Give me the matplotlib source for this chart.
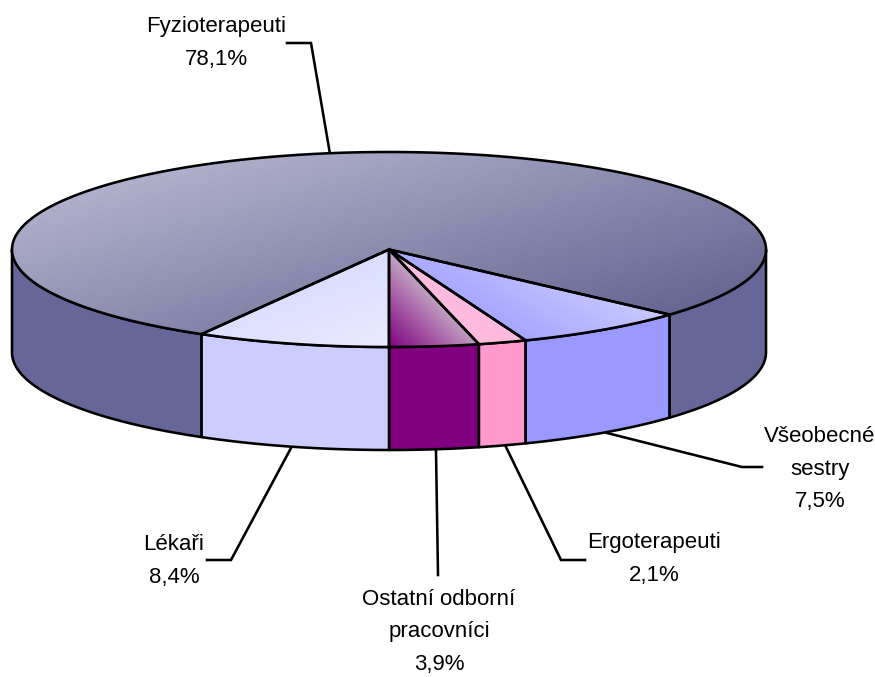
import numpy as np
import matplotlib
matplotlib.use("Agg")
import matplotlib.pyplot as plt
from matplotlib.patches import Polygon
from matplotlib.colors import to_rgb

# Data, going from the front of the pie towards the right
categories = ["Ostatní odborní\npracovníci", "Ergoterapeuti", "Všeobecné\nsestry", "Fyzioterapeuti", "Lékaři"]
values = [3.9, 2.1, 7.5, 78.1, 8.4]
side_colors = ["#800080", "#FF99CC", "#9999FF", "#666699", "#CCCCFF"]
top_light = ["#C4A6C4", "#FFBBDD", "#CACAFF", "#B0B0CC", "#DCDCFF"]
top_dark = ["#800080", "#FFBBDD", "#A6A6FF", "#666692", "#EAEAFF"]
grad_dirs = [(-0.7, 0.7), (0, 1), (-0.5, 0.85), (0.27, 0.96), (0.35, 0.94)]

CX, CY, RX, RY, DEPTH = 389, 249.5, 377, 97.5, 103
LW = 1.85

plt.rcParams["font.family"] = ["Liberation Sans Narrow", "Liberation Sans", "DejaVu Sans"]
fig = plt.figure(figsize=(8.75, 6.77), dpi=100)
ax = fig.add_axes([0, 0, 1, 1])
ax.set_xlim(0, 875)
ax.set_ylim(677, 0)
ax.axis("off")


def rim(a0, a1, dy=0.0, n=240):
    a = np.radians(np.linspace(a0, a1, n))
    a = a - np.radians(0.5) * np.sin(2 * a)  # slight perspective of the tilted disc
    return np.column_stack([CX + RX * np.sin(a), CY + RY * np.cos(a) + dy])


def gradient_fill(poly, c0, c1, direction, z):
    x0, y0 = poly.min(axis=0)
    x1, y1 = poly.max(axis=0)
    xx, yy = np.meshgrid(np.arange(x0, x1 + 1), np.arange(y0, y1 + 1))
    d = xx * direction[0] + yy * direction[1]
    proj = poly @ np.array(direction)
    t = np.clip((d - proj.min()) / (proj.max() - proj.min()), 0, 1)[..., None]
    img = np.array(to_rgb(c0)) * (1 - t) + np.array(to_rgb(c1)) * t
    im = ax.imshow(img, extent=(x0, x1 + 1, y1 + 1, y0), zorder=z, aspect="auto", interpolation="bilinear")
    clip = Polygon(poly, closed=True, transform=ax.transData)
    im.set_clip_path(clip)


# Leader lines
leaders = [
    [(287, 43), (311, 43), (330, 154)],
    [(607, 433), (742, 467), (762, 467)],
    [(506, 447), (561, 560), (585, 560)],
    [(436, 451), (438, 575)],
    [(291, 448), (231, 560), (207, 560)],
]
for pts in leaders:
    p = np.array(pts)
    ax.plot(p[:, 0], p[:, 1], color="black", lw=LW, zorder=1, solid_joinstyle="miter")

bounds = np.concatenate([[0], np.cumsum(values)]) * 3.6
bounds = bounds * 360 / bounds[-1]

# Side walls: visible only on the front half of the ellipse
for i in range(len(values)):
    for lo, hi in [(bounds[i], bounds[i + 1]), (bounds[i] - 360, bounds[i + 1] - 360)]:
        a0, a1 = max(lo, -90), min(hi, 90)
        if a1 <= a0:
            continue
        top = rim(a0, a1)
        bot = rim(a0, a1, DEPTH)
        ax.add_patch(Polygon(np.vstack([top, bot[::-1]]), closed=True, facecolor=side_colors[i],
                             edgecolor="black", lw=LW, zorder=2, joinstyle="round"))

# Top faces
for i in range(len(values)):
    edge = rim(bounds[i], bounds[i + 1], n=480)
    poly = np.vstack([[CX, CY], edge])
    gradient_fill(poly, top_light[i], top_dark[i], grad_dirs[i], 3 + i * 0.01)
for i in range(len(values)):
    edge = rim(bounds[i], bounds[i + 1], n=480)
    poly = np.vstack([[CX, CY], edge])
    ax.add_patch(Polygon(poly, closed=True, facecolor="none", edgecolor="black", lw=LW, zorder=4, joinstyle="miter"))

# Labels
label_pos = [(439, 632), (654, 559), (820, 469), (216, 43), (174, 561)]
for name, v, (x, y) in zip(categories, values, label_pos):
    ax.text(x, y, f"{name}\n{v:.1f}%".replace(".", ","), ha="center", va="center",
            fontsize=16, color="black", linespacing=1.72, zorder=5)

ax.set_xlim(0, 875)
ax.set_ylim(677, 0)
fig.savefig("out.png", dpi=100, facecolor="white")
